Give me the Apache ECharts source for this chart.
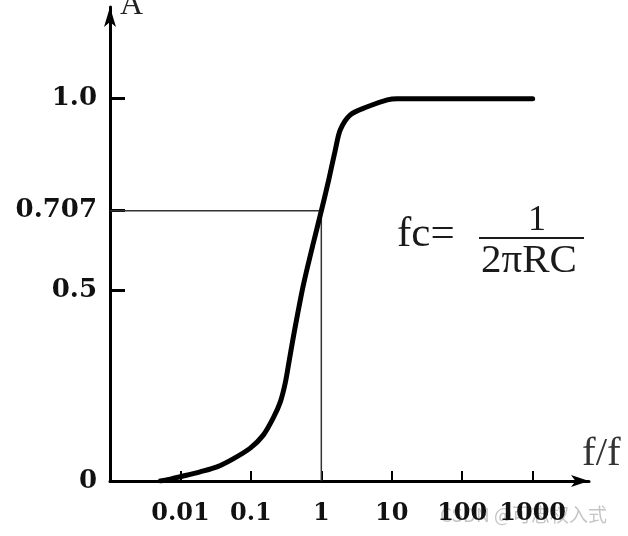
<!DOCTYPE html>
<html>
<head>
<meta charset="utf-8">
<script src="https://cdn.jsdelivr.net/npm/echarts@6/dist/echarts.min.js"></script>
<style>
html,body{margin:0;padding:0;background:#fff;}
#chart{width:628px;height:536px;}
</style>
</head>
<body>
<div id="chart"></div>
<script>
// Frequency ratio (log axis) and amplitude
const freq = [0.0052, 0.0072, 0.011, 0.019, 0.033, 0.056, 0.098, 0.15, 0.208, 0.262, 0.308, 0.351, 0.413, 0.555, 0.769, 0.968, 1.257, 1.58, 1.86, 2.58, 4.5, 8.66, 12, 1000];
const amp  = [0, 0.005, 0.013, 0.024, 0.037, 0.058, 0.086, 0.12, 0.165, 0.207, 0.257, 0.316, 0.39, 0.512, 0.622, 0.696, 0.783, 0.866, 0.919, 0.958, 0.979, 0.997, 1.0, 1.0];
const xTickValues = [0.01, 0.1, 1, 10, 100, 1000];
const xTickLabels = ['0.01', '0.1', '1', '10', '100', '1000'];
const yTickValues = [0.5, 0.707, 1.0];
const yLabelValues = [0, 0.5, 0.707, 1.0];
const yTickLabels = ['0', '0.5', '0.707', '1.0'];
const cutoffF = 1;
const cutoffA = 0.707;
const xMin = 0.001;

const chart = echarts.init(document.getElementById('chart'));
const curve = freq.map((f, i) => [f, amp[i]]);
const guide = [[xMin, cutoffA], [cutoffF, cutoffA], [cutoffF, 0]];

chart.setOption({
  animation: false,
  backgroundColor: '#fff',
  grid: {left: 110, right: 39, top: 7, bottom: 55},
  xAxis: {
    type: 'log', logBase: 10, min: xMin, max: 6310,
    axisLine: {show: true, onZero: false, lineStyle: {color: '#000', width: 3}, symbol: ['none', 'arrow'], symbolSize: [9, 18]},
    axisTick: {show: true, inside: true, length: 10, lineStyle: {color: '#000', width: 2}, customValues: xTickValues},
    axisLabel: {
      customValues: xTickValues,
      margin: 21,
      color: '#111', fontFamily: 'DejaVu Serif', fontWeight: 'bold', fontSize: 24,
      formatter: v => { const i = xTickValues.findIndex(t => Math.abs(t - v) / t < 1e-6); return i >= 0 ? xTickLabels[i] : ''; }
    },
    splitLine: {show: false}
  },
  yAxis: {
    type: 'value', min: 0, max: 1.24,
    axisLine: {show: true, lineStyle: {color: '#000', width: 3}, symbol: ['none', 'arrow'], symbolSize: [9, 20]},
    axisTick: {show: true, inside: true, length: 15, lineStyle: {color: '#000', width: 3}, customValues: yTickValues},
    axisLabel: {
      customValues: yLabelValues,
      margin: 13,
      color: '#111', fontFamily: 'DejaVu Serif', fontWeight: 'bold', fontSize: 26,
      formatter: v => { const i = yLabelValues.findIndex(t => Math.abs(t - v) < 1e-6); return i >= 0 ? yTickLabels[i] : ''; }
    },
    splitLine: {show: false}
  },
  series: [
    {
      type: 'line', data: guide, symbol: 'none', silent: true,
      lineStyle: {color: '#333', width: 1.5}, z: 1
    },
    {
      type: 'line', data: curve, symbol: 'none', smooth: 0.3,
      lineStyle: {color: '#000', width: 5, cap: 'round'}, z: 3
    }
  ],
  graphic: [
    {type: 'text', left: 120, top: -10, style: {text: 'A', fontFamily: 'Liberation Serif', fontSize: 32, fill: '#222'}},
    {type: 'text', left: 582, top: 434, style: {text: 'f/f', fontFamily: 'Liberation Serif', fontSize: 41, fill: '#333'}},
    {type: 'text', left: 397, top: 213, style: {text: 'fc=', fontFamily: 'Liberation Serif', fontSize: 43, fill: '#1a1a1a'}},
    {type: 'text', left: 528, top: 203, style: {text: '1', fontFamily: 'Liberation Serif', fontSize: 36, fill: '#1a1a1a'}},
    {type: 'line', shape: {x1: 479, y1: 238, x2: 584, y2: 238}, style: {stroke: '#1a1a1a', lineWidth: 2}},
    {type: 'text', left: 481, top: 241, style: {text: '2πRC', fontFamily: 'Liberation Serif', fontSize: 41, fill: '#1a1a1a'}},
    {type: 'text', left: 440, top: 505, style: {text: 'CSDN @可志权入式', fontFamily: 'Noto Sans CJK SC', fontSize: 19, fill: 'rgba(140,140,140,0.5)'}}
  ]
});
</script>
</body>
</html>
